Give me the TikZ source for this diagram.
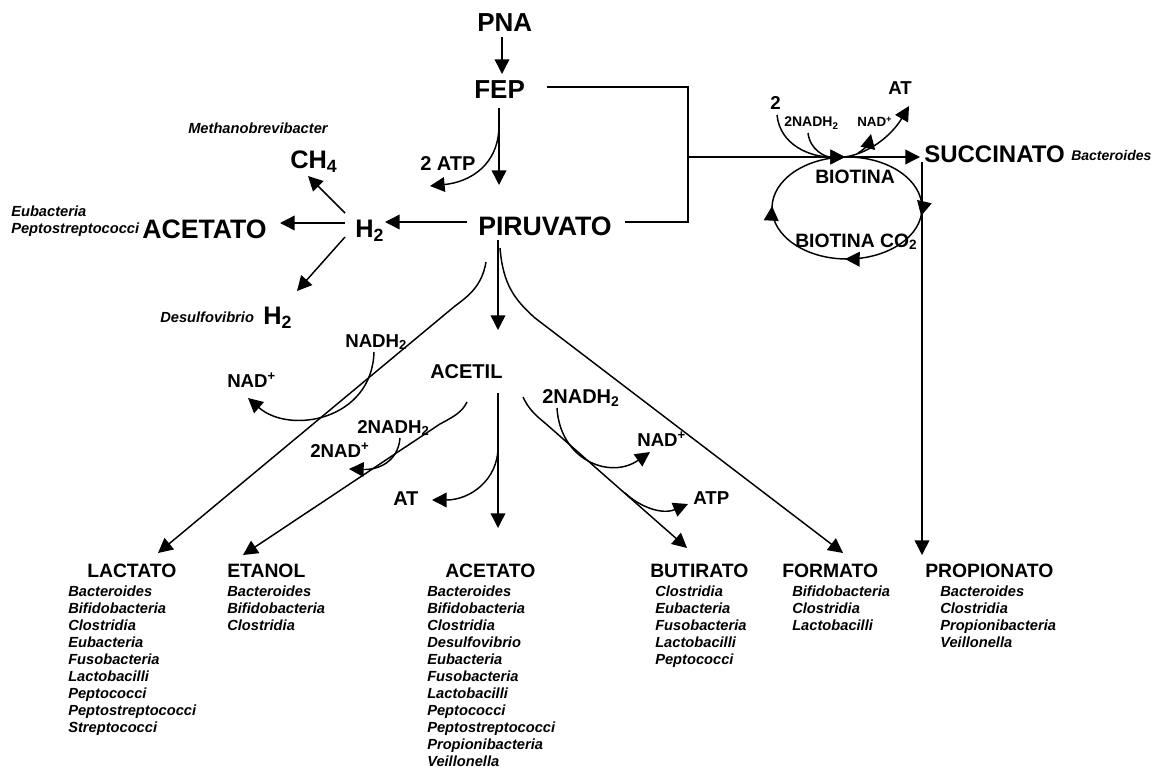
\documentclass[tikz,border=0pt]{standalone}
\usepackage{fontspec}
\setmainfont{Liberation Sans}
\usetikzlibrary{arrows.meta,decorations.markings}
\begin{document}
\begin{tikzpicture}[x=0.75pt,y=-0.75pt,
  lw/.style={line width=1.1pt},
  tip/.style={-{Triangle[length=11pt,width=11pt]}},
  arr/.style={lw,tip},
  lab/.style={inner sep=0pt,anchor=base west,font=\bfseries\fontsize{#1}{#1}\selectfont},
  spi/.style={inner sep=0pt,anchor=base west,font=\bfseries\itshape\fontsize{#1}{#1}\selectfont},
  sp/.style={spi=11}]
\path[use as bounding box,fill=white] (0,0) rectangle (1176,770);

% ---- main labels
\node[lab=19.5] (PNA) at (477,32) {PNA};
\node[lab=19.5] (FEP) at (474,99) {FEP};
\node[lab=20] (PIR) at (478,235) {PIRUVATO};
\node[lab=15] (ATP2) at (420,171) {2 ATP};
\node[lab=18] (SUC) at (924,162) {SUCCINATO};
\node[spi=10.5] (SUCb) at (1071,161) {Bacteroides};
\node[lab=14.5] (BIO) at (815,183) {BIOTINA};
\node[lab=14.5] (BIOC) at (795,247) {BIOTINA CO\textsubscript{2}};
\node[lab=14] (two) at (770,110) {2};
\node[lab=10.5] (NADHt) at (784,127) {2NADH\textsubscript{2}};
\node[lab=10] (NADt) at (857,127) {NAD\textsuperscript{+}};
\node[lab=14] (ATt) at (888,95) {AT};

\node[lab=19] (H2) at (355,237) {H\textsubscript{2}};
\node[lab=19] (CH4) at (290,168) {CH\textsubscript{4}};
\node[lab=20] (ACEl) at (142,238) {ACETATO};
\node[spi=11] (meth) at (188,133) {Methanobrevibacter};
\node[spi=11] (eub) at (11,216) {Eubacteria};
\node[spi=11] (pep) at (11,233) {Peptostreptococci};
\node[spi=11] (des) at (160,322) {Desulfovibrio};
\node[lab=19] (H2b) at (263,324) {H\textsubscript{2}};

\node[lab=14] (NADHa) at (345,347) {NADH\textsubscript{2}};
\node[lab=14] (NADa) at (227,387) {NAD\textsuperscript{+}};
\node[lab=15] (ACE) at (430,378) {ACETIL};
\node[lab=14] (NADHb) at (357,433) {2NADH\textsubscript{2}};
\node[lab=14] (NADb) at (310,457) {2NAD\textsuperscript{+}};
\node[lab=15] (ATm) at (393,505) {AT};
\node[lab=15] (NADHc) at (542,403) {2NADH\textsubscript{2}};
\node[lab=14] (NADc) at (637,446) {NAD\textsuperscript{+}};
\node[lab=14] (ATP) at (693,504) {ATP};

% ---- bottom headers and species
\node[lab=14.5] (LAC) at (87,577) {LACTATO};
\node[lab=14.5] (ETA) at (227,577) {ETANOL};
\node[lab=14.5] (ACB) at (445,577) {ACETATO};
\node[lab=14.5] (BUT) at (650,577) {BUTIRATO};
\node[lab=14.5] (FOR) at (782,577) {FORMATO};
\node[lab=14.5] (PRO) at (925,577) {PROPIONATO};
\foreach \s [count=\i] in {Bacteroides,Bifidobacteria,Clostridia,Eubacteria,Fusobacteria,Lactobacilli,Peptococci,Peptostreptococci,Streptococci}
  \node[sp] (lac\i) at (68,{596+17*(\i-1)}) {\s};
\foreach \s [count=\i] in {Bacteroides,Bifidobacteria,Clostridia}
  \node[sp] (eta\i) at (227,{596+17*(\i-1)}) {\s};
\foreach \s [count=\i] in {Bacteroides,Bifidobacteria,Clostridia,Desulfovibrio,Eubacteria,Fusobacteria,Lactobacilli,Peptococci,Peptostreptococci,Propionibacteria,Veillonella}
  \node[sp] (acb\i) at (427,{596+17*(\i-1)}) {\s};
\foreach \s [count=\i] in {Clostridia,Eubacteria,Fusobacteria,Lactobacilli,Peptococci}
  \node[sp] (but\i) at (655,{596+17*(\i-1)}) {\s};
\foreach \s [count=\i] in {Bifidobacteria,Clostridia,Lactobacilli}
  \node[sp] (for\i) at (792,{596+17*(\i-1)}) {\s};
\foreach \s [count=\i] in {Bacteroides,Clostridia,Propionibacteria,Veillonella}
  \node[sp] (pro\i) at (940,{596+17*(\i-1)}) {\s};

% ---- coordinates
\coordinate (pnaB) at (502,37);  \coordinate (fepT) at (502,74);
\coordinate (fepB) at (499,108); \coordinate (pirT) at (499,185);
\coordinate (atpS) at (499,125); \coordinate (atpE) at (430,186);
\coordinate (fepR) at (547,87);  \coordinate (cornA) at (688,87);
\coordinate (cornB) at (688,222); \coordinate (pirR) at (625,222);
\coordinate (junc) at (688,157); \coordinate (sucL) at (920,157);
\coordinate (pirL) at (467,222); \coordinate (h2R) at (385,222);
\coordinate (h2a) at (345,213); \coordinate (ch4E) at (308,176);
\coordinate (h2b) at (345,223); \coordinate (aceE) at (280,223);
\coordinate (h2c) at (345,237); \coordinate (h2bE) at (297,291);
\coordinate (pirB) at (498,240); \coordinate (aceT) at (498,330);
\coordinate (aceB) at (498,393); \coordinate (acbT) at (498,528);
\coordinate (lacS) at (486,262); \coordinate (lacK) at (455,306); \coordinate (lacT) at (158,553);
\coordinate (etaS) at (467,402); \coordinate (etaK) at (440,424); \coordinate (etaT) at (243,555);
\coordinate (forS) at (500,248); \coordinate (forK) at (535,318); \coordinate (forT) at (843,553);
\coordinate (butS) at (523,397); \coordinate (butK) at (545,423); \coordinate (butT) at (687,548);
\coordinate (sucB) at (922,162); \coordinate (proT) at (922,555);
\coordinate (bioTop) at (845,157);

% ---- connectors
\draw[arr] (pnaB) -- (fepT);
\draw[arr] (fepB) -- (pirT);
\draw[arr] (atpS) .. controls (499,165) and (470,182) .. (atpE);
\draw[lw] (fepR) -- (cornA) -- (cornB) -- (pirR);
\draw[arr] (junc) -- (sucL);
\draw[arr] (pirL) -- (h2R);
\draw[arr] (h2a) -- (ch4E);
\draw[arr] (h2b) -- (aceE);
\draw[arr] (h2c) -- (h2bE);
\draw[arr] (pirB) -- (aceT);
\draw[arr] (aceB) -- (acbT);
\draw[arr] (lacS) .. controls (482,285) and (470,295) .. (lacK) -- (lacT);
\draw[arr] (etaS) .. controls (462,412) and (455,416) .. (etaK) -- (etaT);
\draw[arr] (forS) .. controls (503,285) and (515,300) .. (forK) -- (forT);
\draw[arr] (butS) .. controls (528,408) and (535,415) .. (butK) -- (butT);
\draw[arr] (sucB) -- (proT);

% side reactions
\draw[arr] (374,352) .. controls (372,420) and (290,435) .. (248,398);
\draw[arr] (400,438) .. controls (398,462) and (378,470) .. (349,469);
\draw[arr] (498,447) .. controls (498,480) and (470,500) .. (432,500);
\draw[arr] (557,408) .. controls (560,460) and (610,480) .. (650,452);
\draw[arr] (625,493) .. controls (640,507) and (662,515) .. (688,504);

% biotin cycle
\draw[lw,postaction={decorate},decoration={markings,
   mark=at position 0.02 with {\arrow{Triangle[length=11pt,width=11pt]}},
   mark=at position 0.255 with {\arrow{Triangle[length=11pt,width=11pt]}},
   mark=at position 0.505 with {\arrow{Triangle[length=11pt,width=11pt]}}}]
   (847,208) ellipse [x radius=75, y radius=51];
\draw[arr] (777,115) .. controls (780,145) and (810,157) .. (bioTop);
\draw[arr] (808,133) .. controls (810,150) and (825,157) .. (bioTop);
\draw[arr] (bioTop) .. controls (875,152) and (895,130) .. (909,106);
\draw[arr] (858,153) .. controls (865,149) and (869,143) .. (871,134);
\end{tikzpicture}
\end{document}
